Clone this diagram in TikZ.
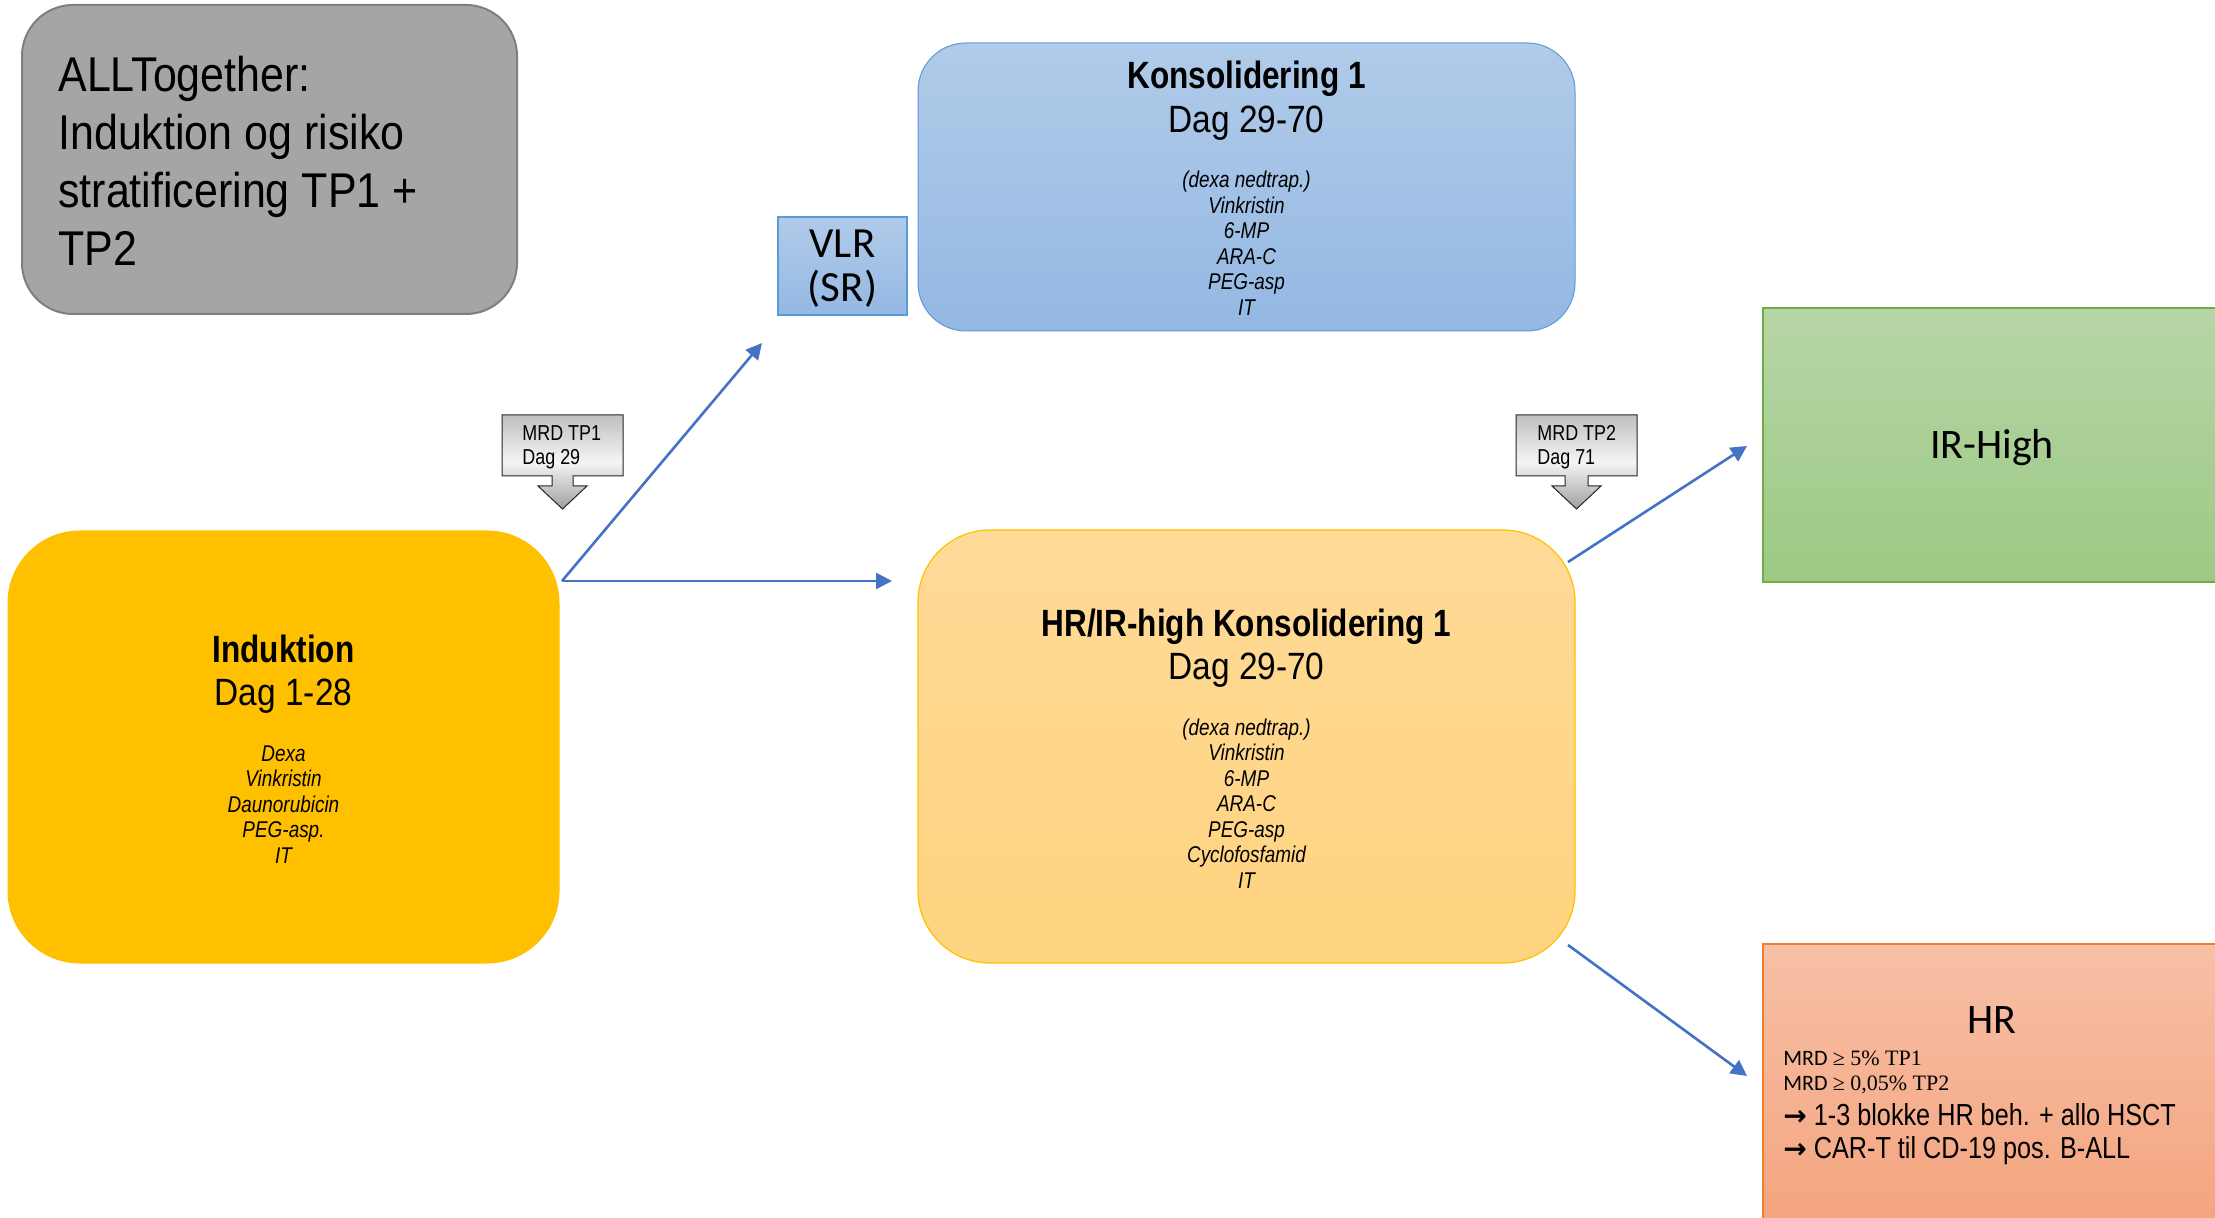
\documentclass[tikz,border=0pt]{standalone}
\usepackage{fontspec}
\setmainfont{Liberation Sans}[FakeStretch=0.83]
\newfontfamily\reg{Liberation Sans}[FakeStretch=0.88]
\newfontfamily\calib{Carlito}
\newfontfamily\serifm{Liberation Serif}
\newfontfamily\dejav{DejaVu Sans}
\usetikzlibrary{arrows.meta}
\definecolor{arrowblue}{HTML}{4472C4}
\definecolor{grayfill}{HTML}{A5A5A5}
\definecolor{grayline}{HTML}{7F7F7F}
\definecolor{indfill}{HTML}{FFC000}
\definecolor{blueTop}{HTML}{B1CBE9}
\definecolor{blueBot}{HTML}{94B8E3}
\definecolor{blueLine}{HTML}{5B9BD5}
\definecolor{yelTop}{HTML}{FFDA98}
\definecolor{yelBot}{HTML}{FFD47F}
\definecolor{yelLine}{HTML}{FFC000}
\definecolor{grnTop}{HTML}{B6D6A6}
\definecolor{grnBot}{HTML}{9DC984}
\definecolor{grnLine}{HTML}{70AD47}
\definecolor{orTop}{HTML}{F7C0A7}
\definecolor{orBot}{HTML}{F4A47E}
\definecolor{orLine}{HTML}{ED7D31}
\tikzset{
 box/.style={inner sep=0pt},
 lbl/.style={inner sep=0pt, anchor=base},
 lblw/.style={inner sep=0pt, anchor=base west},
 drug/.style={lbl, font=\fontsize{11.4}{13}\selectfont\itshape},
 ttl/.style={lbl, font=\fontsize{19}{22}\selectfont\bfseries},
 dag/.style={lbl, font=\fontsize{19}{22}\selectfont\reg},
 mrd/.style={lblw, font=\fontsize{10.8}{12}\selectfont},
 big/.style={lbl, font=\fontsize{21}{24}\selectfont\calib},
 flow/.style={draw=arrowblue, line width=1.3pt, -{Triangle[length=8pt,width=8pt]}},
 callout/.style={draw=black!85, line width=0.5pt, top color=gray!50, bottom color=gray!75, middle color=gray!8},
}
\begin{document}
\begin{tikzpicture}[x=0.5pt,y=-0.5pt]
\useasboundingbox (0,0) rectangle (2215,1218);
\clip (0,0) rectangle (2215,1218);

% title box
\node[box, draw=grayline, line width=1pt, fill=grayfill, rounded corners=25.5pt,
  minimum width=247.5pt, minimum height=154.5pt] (title) at (269.5,159.5) {};
\foreach \t [count=\i from 0] in {ALLTogether:,Induktion og risiko,stratificering TP1 +,TP2}
  \node[lblw, font=\fontsize{24.4}{28.8}\selectfont\reg] (tl\i) at (58,{92+57.7*\i}) {\t};

% Induktion
\node[box, draw=indfill, line width=0.5pt, fill=indfill, rounded corners=36pt,
  minimum width=275.5pt, minimum height=216pt] (ind) at (283.5,747) {};
\node[ttl] (indt) at (283.5,662) {Induktion};
\node[dag] (indd) at (283.5,705) {Dag 1-28};
\foreach \t [count=\i from 0] in {Dexa,Vinkristin,Daunorubicin,PEG-asp.,IT}
  \node[drug] (indm\i) at (283.5,{761+25.5*\i}) {\t};

% Konsolidering 1
\node[box, draw=blueLine, line width=0.5pt, top color=blueTop, bottom color=blueBot, rounded corners=24pt,
  minimum width=328.5pt, minimum height=144pt] (kons) at (1246.5,187) {};
\node[ttl] (konst) at (1246.5,89) {Konsolidering 1};
\node[dag] (konsd) at (1246.5,133) {Dag 29-70};
\foreach \t [count=\i from 0] in {{(dexa nedtrap.)},Vinkristin,6-MP,ARA-C,PEG-asp,IT}
  \node[drug] (konsm\i) at (1246.5,{188+25.5*\i}) {\t};

% VLR
\node[box, draw=blueLine, line width=0.8pt, top color=blueTop, bottom color=blueBot,
  minimum width=64.5pt, minimum height=49pt] (vlr) at (842.5,266) {};
\node[big, font=\fontsize{21.5}{24}\selectfont\calib] (vlr1) at (842.5,258) {VLR};
\node[big, font=\fontsize{21.5}{24}\selectfont\calib] (vlr2) at (842.5,302) {(SR)};

% HR/IR-high Konsolidering
\node[box, draw=yelLine, line width=0.6pt, top color=yelTop, bottom color=yelBot, rounded corners=36pt,
  minimum width=328.5pt, minimum height=216.5pt] (hrir) at (1246.5,746.5) {};
\node[ttl] (hrirt) at (1246.5,637) {HR/IR-high Konsolidering 1};
\node[dag] (hrird) at (1246.5,680) {Dag 29-70};
\foreach \t [count=\i from 0] in {{(dexa nedtrap.)},Vinkristin,6-MP,ARA-C,PEG-asp,Cyclofosfamid,IT}
  \node[drug] (hrirm\i) at (1246.5,{735+25.5*\i}) {\t};

% IR-High
\node[box, draw=grnLine, line width=0.8pt, top color=grnTop, bottom color=grnBot,
  minimum width=229pt, minimum height=137pt] (irh) at (1992,445) {};
\node[big] (irht) at (1992,459) {IR-High};

% HR
\node[box, draw=orLine, line width=0.8pt, top color=orTop, bottom color=orBot,
  minimum width=229pt, minimum height=142pt] (hr) at (1992,1086) {};
\node[big] (hrt) at (1992,1033) {HR};
\node[lblw, font=\fontsize{11}{12}\selectfont] (hrl1) at (1783,1065) {{\calib MRD} {\serifm ≥ 5\% TP1}};
\node[lblw, font=\fontsize{11}{12}\selectfont] (hrl2) at (1783,1090) {{\calib MRD} {\serifm ≥ 0,05\% TP2}};
\node[lblw, font=\fontsize{15.2}{17}\selectfont] (hrl3) at (1783,1125) {{\dejav\bfseries\fontsize{14}{15}\selectfont →} 1-3 blokke HR beh. + allo HSCT};
\node[lblw, font=\fontsize{15.2}{17}\selectfont] (hrl4) at (1783,1158) {{\dejav\bfseries\fontsize{14}{15}\selectfont →} CAR-T til CD-19 pos. B-ALL};

% MRD callouts
\path[callout] (502,415) -- (623,415) -- (623,476) -- (573,476) -- (573,486) -- (587,486)
  -- (562.5,509) -- (538,486) -- (552,486) -- (552,476) -- (502,476) -- cycle;
\node[mrd] (m1a) at (522,441) {MRD TP1};
\node[mrd] (m1b) at (522,465) {Dag 29};
\path[callout] (1516,415) -- (1637,415) -- (1637,476) -- (1588,476) -- (1588,486) -- (1601,486)
  -- (1576.5,509) -- (1552,486) -- (1565,486) -- (1565,476) -- (1516,476) -- cycle;
\node[mrd] (m2a) at (1537,441) {MRD TP2};
\node[mrd] (m2b) at (1537,465) {Dag 71};

% connectors
\coordinate (indOut) at (562,581);
\coordinate (vlrIn) at (762,343);
\coordinate (hrirIn) at (892,581);
\coordinate (hrirOutA) at (1568,562);
\coordinate (irhIn) at (1747,446);
\coordinate (hrirOutB) at (1568,945);
\coordinate (hrIn) at (1747,1076);
\draw[flow] (indOut) -- (vlrIn);
\draw[flow] (indOut) -- (hrirIn);
\draw[flow] (hrirOutA) -- (irhIn);
\draw[flow] (hrirOutB) -- (hrIn);
\end{tikzpicture}
\end{document}
